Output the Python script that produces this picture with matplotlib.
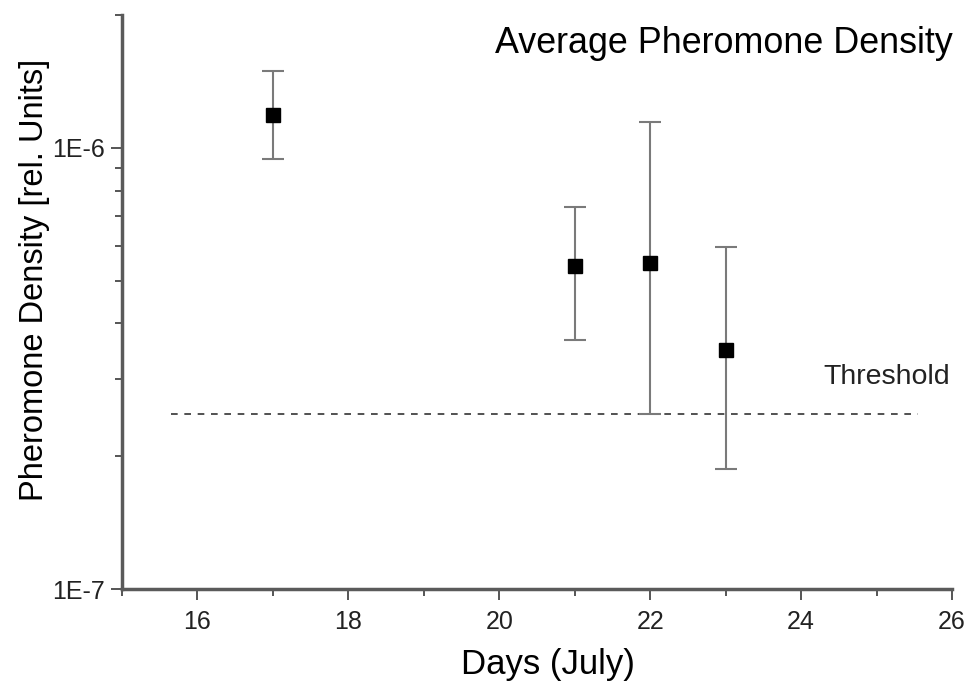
import matplotlib
matplotlib.use("Agg")
import matplotlib.pyplot as plt
from matplotlib.ticker import FixedLocator, LogLocator, NullFormatter, MultipleLocator

plt.rcParams['font.family'] = ['Liberation Sans', 'DejaVu Sans']

# ── data ─────────────────────────────────────────────────────────────────────
days = [17, 21, 22, 23]
density = [1.19e-6, 5.39e-7, 5.47e-7, 3.49e-7]
err_upper = [1.49e-6, 7.33e-7, 1.145e-6, 5.97e-7]
err_lower = [9.44e-7, 3.66e-7, 2.50e-7, 1.875e-7]
threshold = 2.5e-7
threshold_span = [15.65, 25.55]

yerr = [[d - lo for d, lo in zip(density, err_lower)],
        [hi - d for d, hi in zip(density, err_upper)]]

fig = plt.figure(figsize=(9.71, 6.85), dpi=100)
ax = fig.add_axes([0.1256, 0.140, 0.8548, 0.838])

ax.errorbar(days, density, yerr=yerr, fmt='s', color='black', markersize=9.5,
            ecolor='#7a7a7a', elinewidth=1.5, capsize=8, capthick=1.5, zorder=3)

ax.plot(threshold_span, [threshold, threshold], linestyle=(0, (4, 4)),
        color='#333333', linewidth=1.2)
ax.text(25.98, threshold * 1.13, "Threshold", fontsize=20.5, ha='right', va='bottom',
        color='#222222')

ax.set_yscale('log')
ax.set_ylim(1e-7, 2e-6)
ax.set_xlim(15, 26)

ax.yaxis.set_major_locator(FixedLocator([1e-7, 1e-6]))
ax.set_yticklabels(["1E-7", "1E-6"])
ax.yaxis.set_minor_locator(LogLocator(base=10, subs=range(2, 10)))
ax.yaxis.set_minor_formatter(NullFormatter())

ax.xaxis.set_major_locator(MultipleLocator(2))
ax.xaxis.set_minor_locator(MultipleLocator(1))

for side in ['top', 'right']:
    ax.spines[side].set_visible(False)
for side in ['left', 'bottom']:
    ax.spines[side].set_color('#5a5a5a')
    ax.spines[side].set_linewidth(2.5)

ax.tick_params(which='major', direction='out', length=8, width=1.4,
               color='#555555', labelsize=18, labelcolor='#222222')
ax.tick_params(axis='x', which='major', pad=7)
ax.tick_params(axis='y', which='major', pad=4)
ax.tick_params(which='minor', direction='out', length=5, width=1.4, color='#555555')

ax.set_xlabel("Days (July)", fontsize=25)
ax.xaxis.set_label_coords(0.513, -0.103)
ax.set_ylabel("Pheromone Density [rel. Units]", fontsize=23.5)
ax.yaxis.set_label_coords(-0.087, 0.538)

ax.text(1.001, 0.951, "Average Pheromone Density", transform=ax.transAxes,
        fontsize=25.8, ha='right', va='center')

fig.savefig("out.png", dpi=100)
